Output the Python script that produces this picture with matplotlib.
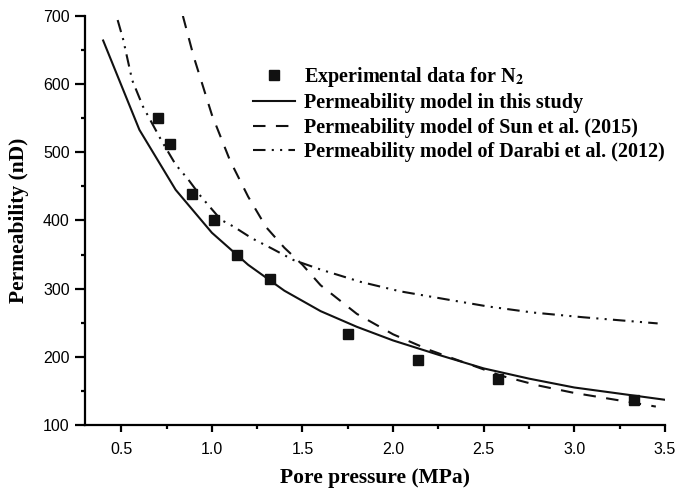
import matplotlib
matplotlib.use("Agg")
import matplotlib.pyplot as plt
from matplotlib.ticker import MultipleLocator

plt.rcParams['mathtext.fontset'] = 'stix'

# experimental data (N2)
exp_p = [0.70, 0.77, 0.89, 1.01, 1.14, 1.32, 1.75, 2.14, 2.58, 3.33]
exp_k = [550, 512, 439, 400, 349, 314, 233, 195, 168, 137]

# permeability model in this study
this_p = [0.4, 0.6, 0.8, 1.0, 1.2, 1.4, 1.6, 1.8, 2.0, 2.25, 2.5, 2.75, 3.0, 3.25, 3.5]
this_k = [664, 533, 445, 382, 335, 297, 267, 244, 224, 203, 183, 168, 155, 146, 137]

# Sun et al. (2015)
sun_p = [0.84, 0.9, 1.0, 1.1, 1.2, 1.3, 1.4, 1.5, 1.6, 1.8, 2.0, 2.2, 2.4, 2.6, 2.8, 3.0, 3.25, 3.45]
sun_k = [700, 640, 555, 488, 435, 390, 360, 335, 305, 263, 233, 210, 191, 172, 158, 147, 136, 127]

# Darabi et al. (2012)
dar_p = [0.48, 0.51, 0.56, 0.62, 0.72, 0.80, 0.87, 0.94, 1.05, 1.12, 1.22, 1.33, 1.45, 1.6, 1.82, 2.04, 2.3, 2.52, 2.77, 3.05, 3.46]
dar_k = [694, 666, 606, 567, 518, 482, 460, 435, 401, 391, 374, 359, 342, 328, 310, 296, 284, 274, 265, 258, 249]

fig = plt.figure(figsize=(6.83, 4.94), dpi=100)
ax = fig.add_axes([0.1245, 0.1397, 0.849, 0.828])

ax.plot(exp_p, exp_k, 's', color='#111111', markersize=6.5, label=r'Experimental data for N$_\mathbf{2}$')
ax.plot(this_p, this_k, '-', color='#111111', lw=1.5, label='Permeability model in this study')
ax.plot(sun_p, sun_k, color='#111111', lw=1.5, dashes=(6, 5), label='Permeability model of Sun et al. (2015)')
ax.plot(dar_p, dar_k, color='#111111', lw=1.5, dashes=(6, 3, 1, 3, 1, 3),
        label='Permeability model of Darabi et al. (2012)')

ax.set_xlim(0.3, 3.5)
ax.set_ylim(100, 700)
ax.xaxis.set_major_locator(MultipleLocator(0.5))
ax.xaxis.set_minor_locator(MultipleLocator(0.25))
ax.yaxis.set_major_locator(MultipleLocator(100))
ax.yaxis.set_minor_locator(MultipleLocator(50))

for s in ['top', 'right']:
    ax.spines[s].set_visible(False)
for s in ['left', 'bottom']:
    ax.spines[s].set_linewidth(1.6)
ax.tick_params(which='major', direction='out', width=1.6, labelsize=11.5)
ax.tick_params(which='minor', direction='out', length=3, width=1.6)
ax.tick_params(axis='x', which='major', length=5, pad=7)
ax.tick_params(axis='y', which='major', length=7, pad=4)
for lab in ax.get_xticklabels() + ax.get_yticklabels():
    lab.set_fontfamily('Liberation Sans')

ax.set_xlabel('Pore pressure (MPa)', fontfamily='Liberation Serif', fontweight='bold', fontsize=15.5, labelpad=8)
ax.set_ylabel('Permeability (nD)', fontfamily='Liberation Serif', fontweight='bold', fontsize=15.5, labelpad=10)

leg = ax.legend(loc='upper left', bbox_to_anchor=(0.29, 0.88), frameon=False, handlelength=2.1,
                handletextpad=0.4, labelspacing=0.22, borderpad=0, borderaxespad=0,
                prop={'family': 'Liberation Serif', 'weight': 'bold', 'size': 14.5})

fig.savefig('out.png', dpi=100)
